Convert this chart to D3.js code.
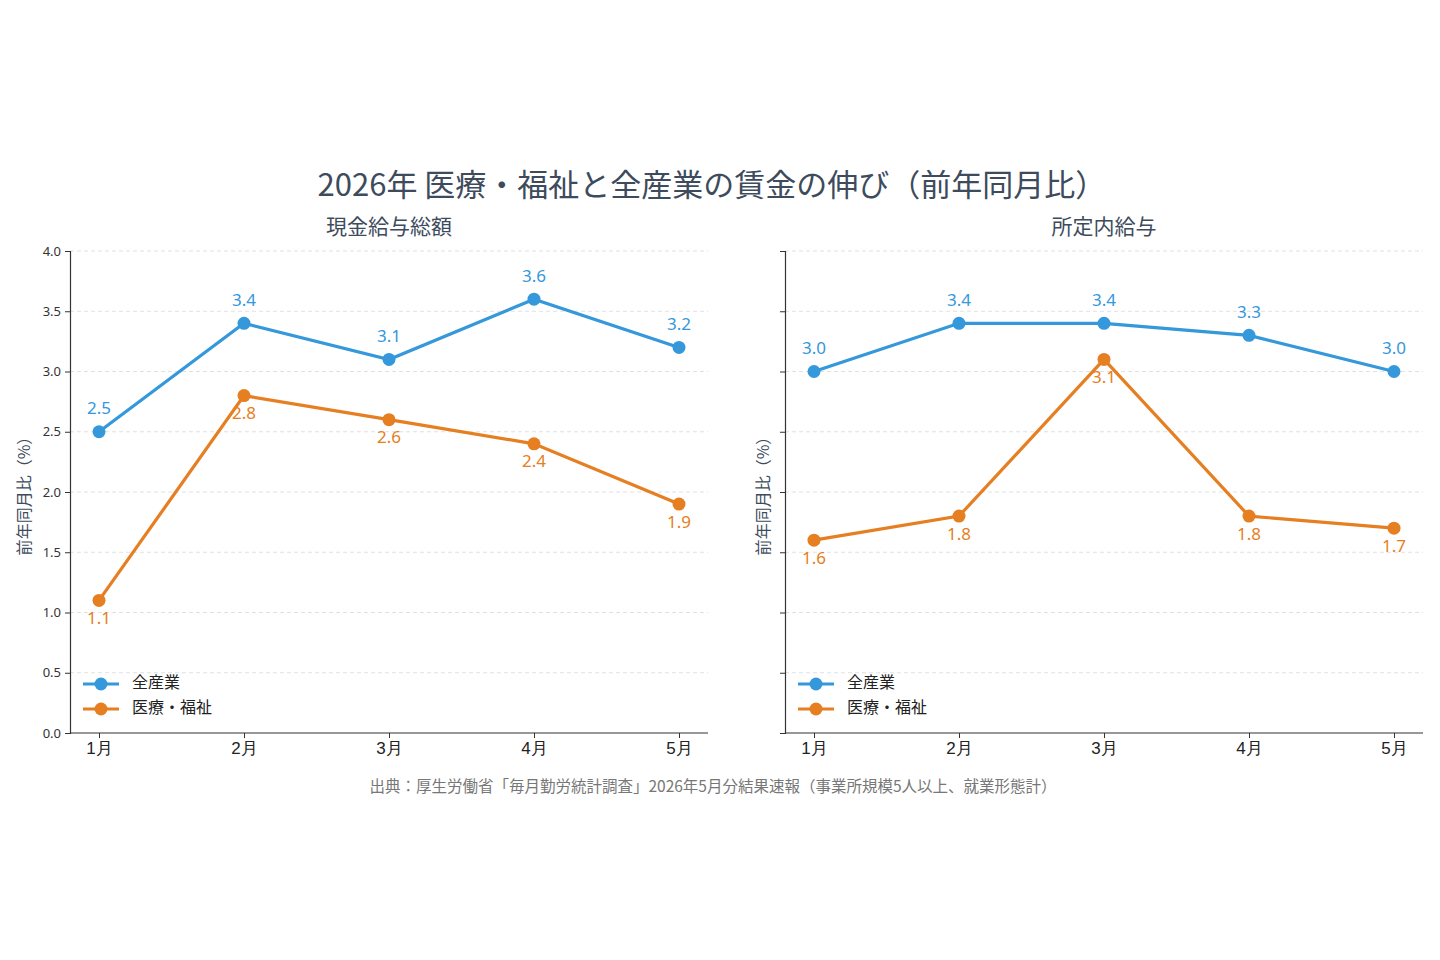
<!DOCTYPE html>
<html>
<head>
<meta charset="utf-8">
<script src="https://cdn.jsdelivr.net/npm/d3@7"></script>
<style>
  body { margin: 0; background: #fff; }
  svg { display: block; font-family: "Noto Sans CJK JP", "Noto Sans", sans-serif; }
</style>
</head>
<body>
<svg id="chart" width="1440" height="960"></svg>
<script>
// data
const months = ["1月", "2月", "3月", "4月", "5月"];
const seriesNames = ["全産業", "医療・福祉"];
const totalAll = [2.5, 3.4, 3.1, 3.6, 3.2];
const totalCare = [1.1, 2.8, 2.6, 2.4, 1.9];
const baseAll = [3.0, 3.4, 3.4, 3.3, 3.0];
const baseCare = [1.6, 1.8, 3.1, 1.8, 1.7];
const yTicks = [0, 0.5, 1.0, 1.5, 2.0, 2.5, 3.0, 3.5, 4.0];

const panels = [
  { title: "現金給与総額", all: totalAll, care: totalCare, x0: 70, showLabels: true, labelOff: 44 },
  { title: "所定内給与", all: baseAll, care: baseCare, x0: 785, showLabels: false, labelOff: 20 }
];

const blue = "#3498db";
const orange = "#e67e22";
const slate = "#3d4b5c";

const svg = d3.select("#chart");

const plotW = 638;
const plotTop = 251, plotBottom = 733;

svg.append("text")
  .attr("x", 712).attr("y", 188)
  .attr("text-anchor", "middle")
  .attr("dominant-baseline", "middle")
  .attr("font-size", 31)
  .attr("fill", slate)
  .text("2026年 医療・福祉と全産業の賃金の伸び（前年同月比）");

svg.append("text")
  .attr("x", 713).attr("y", 788)
  .attr("text-anchor", "middle")
  .attr("dominant-baseline", "middle")
  .attr("font-size", 15.5)
  .attr("fill", "#777")
  .text("出典：厚生労働省「毎月勤労統計調査」2026年5月分結果速報（事業所規模5人以上、就業形態計）");

const y = d3.scaleLinear().domain([0, 4]).range([plotBottom, plotTop]);

panels.forEach(p => {
  const g = svg.append("g");
  const span = plotW / (months.length - 1 + 0.4);
  const x = d3.scalePoint().domain(months)
    .range([p.x0 + span * 0.2, p.x0 + plotW - span * 0.2]);

  // gridlines
  g.append("g").selectAll("line").data(yTicks.slice(1)).join("line")
    .attr("x1", p.x0).attr("x2", p.x0 + plotW)
    .attr("y1", d => y(d)).attr("y2", d => y(d))
    .attr("stroke", "#d9d9d9")
    .attr("stroke-width", 0.8)
    .attr("stroke-dasharray", "4,3");

  // subtitle
  g.append("text")
    .attr("x", p.x0 + plotW / 2).attr("y", 228)
    .attr("text-anchor", "middle")
    .attr("dominant-baseline", "middle")
    .attr("font-size", 21)
    .attr("fill", slate)
    .text(p.title);

  // y axis
  const yAxis = g.append("g")
    .attr("transform", `translate(${p.x0},0)`)
    .call(d3.axisLeft(y).tickValues(yTicks)
      .tickFormat(p.showLabels ? d3.format(".1f") : () => "")
      .tickSize(5).tickPadding(4));
  yAxis.select(".domain").attr("stroke", "#333").attr("stroke-width", 1.2);
  yAxis.selectAll(".tick line").attr("stroke", "#333");
  yAxis.selectAll("text").attr("font-size", 13).attr("fill", "#333")
    .attr("font-family", "'Noto Sans', 'Noto Sans CJK JP', sans-serif");

  // x axis
  const xAxis = g.append("g")
    .attr("transform", `translate(0,${plotBottom})`)
    .call(d3.axisBottom(x).tickSize(5).tickPadding(4));
  xAxis.select(".domain")
    .attr("d", `M${p.x0},0H${p.x0 + plotW}`)
    .attr("stroke", "#333").attr("stroke-width", 1.2);
  xAxis.selectAll(".tick line").attr("stroke", "#333");
  xAxis.selectAll("text").attr("font-size", 17).attr("fill", "#222");

  // y label
  g.append("text")
    .attr("transform", `translate(${p.x0 - p.labelOff},${(plotTop + plotBottom) / 2}) rotate(-90)`)
    .attr("text-anchor", "middle")
    .attr("dominant-baseline", "middle")
    .attr("font-size", 16)
    .attr("fill", slate)
    .text("前年同月比（%）");

  const line = d3.line().x((d, i) => x(months[i])).y(d => y(d));

  const series = [
    { vals: p.all, color: blue, dy: -22 },
    { vals: p.care, color: orange, dy: 19 }
  ];

  series.forEach(s => {
    g.append("path")
      .datum(s.vals)
      .attr("d", line)
      .attr("fill", "none")
      .attr("stroke", s.color)
      .attr("stroke-width", 3.2);
    g.append("g").selectAll("circle").data(s.vals).join("circle")
      .attr("cx", (d, i) => x(months[i]))
      .attr("cy", d => y(d))
      .attr("r", 6.5)
      .attr("fill", s.color);
    g.append("g").selectAll("text").data(s.vals).join("text")
      .attr("x", (d, i) => x(months[i]))
      .attr("y", d => y(d) + s.dy)
      .attr("text-anchor", "middle")
      .attr("dominant-baseline", "middle")
      .attr("font-size", 17)
      .attr("font-family", "'Noto Sans', 'Noto Sans CJK JP', sans-serif")
      .attr("fill", s.color)
      .text(d => d.toFixed(1));
  });

  // legend
  const leg = g.append("g").attr("transform", `translate(${p.x0 + 13},684)`);
  [blue, orange].forEach((c, i) => {
    const r = leg.append("g").attr("transform", `translate(0,${i * 25})`);
    r.append("line").attr("x1", 0).attr("x2", 36).attr("stroke", c).attr("stroke-width", 3.2);
    r.append("circle").attr("cx", 18).attr("r", 6.5).attr("fill", c);
    r.append("text").attr("x", 49).attr("dominant-baseline", "middle")
      .attr("font-size", 16).attr("fill", "#222").text(seriesNames[i]);
  });
});
</script>
</body>
</html>
